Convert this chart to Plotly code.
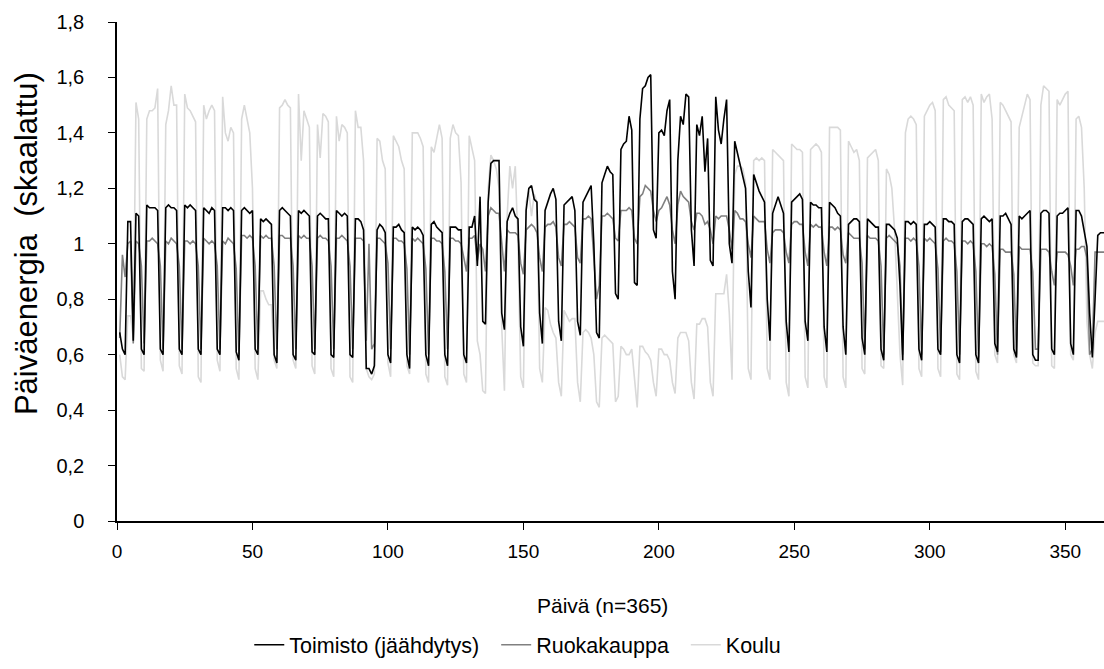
import plotly.graph_objects as go

# Day number (1 = 1 Jan)
days = list(range(1, 366))

# Toimisto (jäähdytys) – daily energy, scaled (first 3 days, then Mon..Sun weeks)
toimisto = [
    0.68, 0.62, 0.60,
    1.08, 1.08, 0.65, 1.11, 1.10, 0.62, 0.60,
    1.14, 1.13, 1.13, 1.13, 1.12, 0.62, 0.60,
    1.13, 1.14, 1.13, 1.13, 1.12, 0.62, 0.60,
    1.14, 1.13, 1.14, 1.13, 1.12, 0.62, 0.60,
    1.13, 1.12, 1.11, 1.13, 1.12, 0.62, 0.60,
    1.13, 1.13, 1.12, 1.13, 1.12, 0.61, 0.58,
    1.12, 1.13, 1.12, 1.11, 1.12, 0.62, 0.60,
    1.09, 1.08, 1.09, 1.08, 1.07, 0.60, 0.57,
    1.12, 1.13, 1.12, 1.11, 1.10, 0.60, 0.58,
    1.12, 1.11, 1.12, 1.11, 1.10, 0.61, 0.60,
    1.10, 1.11, 1.10, 1.09, 1.09, 0.60, 0.59,
    1.12, 1.11, 1.10, 1.11, 1.10, 0.60, 0.59,
    1.09, 1.09, 1.08, 1.05, 0.55, 0.55, 0.53,
    0.56, 1.05, 1.07, 1.06, 1.04, 0.60, 0.57,
    1.06, 1.06, 1.07, 1.05, 1.04, 0.60, 0.55,
    1.06, 1.05, 1.06, 1.05, 1.03, 0.60, 0.56,
    1.07, 1.08, 1.06, 1.05, 1.04, 0.60, 0.56,
    1.06, 1.06, 1.06, 1.05, 1.05, 0.60, 0.57,
    1.06, 1.06, 1.10, 0.92, 1.17, 0.72, 0.71,
    1.15, 1.29, 1.30, 1.30, 1.30, 0.75, 0.69,
    1.08, 1.11, 1.13, 1.10, 1.09, 0.70, 0.63,
    1.12, 1.20, 1.21, 1.16, 1.15, 0.75, 0.64,
    1.12, 1.15, 1.18, 1.20, 1.16, 0.72, 0.65,
    1.14, 1.15, 1.16, 1.17, 1.12, 0.72, 0.67,
    1.15, 1.17, 1.19, 1.21, 1.00, 0.68, 0.66,
    1.22, 1.25, 1.28, 1.26, 1.25, 0.82, 0.80,
    1.34, 1.36, 1.37, 1.46, 1.41, 0.86, 0.85,
    1.45, 1.56, 1.57, 1.60, 1.61, 1.05, 1.02,
    1.40, 1.41, 1.39, 1.48, 1.52, 0.90, 0.80,
    1.30, 1.46, 1.43, 1.54, 1.53, 1.05, 0.92,
    1.43, 1.39, 1.46, 1.26, 1.38, 0.94, 0.92,
    1.53, 1.41, 1.36, 1.45, 1.52, 1.00, 0.93,
    1.37, 1.33, 1.29, 1.25, 1.20, 0.90, 0.77,
    1.25, 1.22, 1.19, 1.17, 1.15, 0.80, 0.65,
    1.11, 1.14, 1.17, 1.14, 1.11, 0.72, 0.61,
    1.15, 1.16, 1.17, 1.18, 1.16, 0.72, 0.65,
    1.15, 1.14, 1.14, 1.13, 1.13, 0.70, 0.61,
    1.15, 1.14, 1.13, 1.11, 1.10, 0.70, 0.60,
    1.07, 1.08, 1.09, 1.09, 1.08, 0.66, 0.60,
    1.09, 1.08, 1.07, 1.06, 1.06, 0.62, 0.58,
    1.07, 1.07, 1.06, 1.05, 1.02, 0.85, 0.58,
    1.08, 1.08, 1.07, 1.08, 1.07, 0.62, 0.58,
    1.07, 1.07, 1.08, 1.07, 1.06, 0.62, 0.60,
    1.09, 1.09, 1.08, 1.08, 1.07, 0.60, 0.57,
    1.08, 1.09, 1.09, 1.08, 1.07, 0.60, 0.57,
    1.09, 1.10, 1.09, 1.08, 1.09, 0.64, 0.61,
    1.10, 1.10, 1.11, 1.09, 1.07, 0.62, 0.59,
    1.10, 1.09, 1.10, 1.11, 1.12, 0.60, 0.58,
    0.58, 1.11, 1.12, 1.12, 1.11, 0.62, 0.60,
    1.10, 1.11, 1.11, 1.12, 1.13, 0.64, 0.60,
    1.12, 1.12, 1.10, 1.05, 0.99, 0.75, 0.59,
    0.80, 1.03, 1.04, 1.04, 1.04,
]

# Ruokakauppa
ruokakauppa = [
    0.66, 0.96, 0.88,
    1.00, 1.01, 0.64, 1.01, 1.00, 0.92, 0.64,
    1.01, 1.01, 1.02, 1.01, 1.00, 0.92, 0.62,
    1.01, 1.00, 1.02, 1.01, 1.00, 0.92, 0.62,
    1.01, 1.01, 1.00, 1.01, 1.00, 0.92, 0.62,
    1.02, 1.01, 1.00, 1.01, 1.00, 0.92, 0.62,
    1.01, 1.00, 1.02, 1.01, 1.00, 0.91, 0.60,
    1.03, 1.03, 1.02, 1.03, 1.02, 0.92, 0.62,
    1.03, 1.02, 1.03, 1.02, 1.02, 0.92, 0.62,
    1.03, 1.03, 1.02, 1.02, 1.02, 0.92, 0.62,
    1.03, 1.02, 1.03, 1.02, 1.02, 0.92, 0.62,
    1.02, 1.03, 1.02, 1.02, 1.01, 0.92, 0.62,
    1.02, 1.02, 1.03, 1.02, 1.01, 0.92, 0.62,
    1.02, 1.02, 1.02, 1.01, 0.65, 1.00, 0.62,
    0.64, 1.02, 1.02, 1.01, 1.00, 0.93, 0.62,
    1.02, 1.02, 1.01, 1.01, 1.00, 0.91, 0.60,
    1.02, 1.01, 1.02, 1.01, 1.00, 0.91, 0.60,
    1.02, 1.02, 1.01, 1.01, 1.00, 0.90, 0.62,
    1.02, 1.02, 1.01, 1.01, 1.00, 0.95, 0.90,
    1.02, 1.02, 1.03, 0.94, 1.00, 0.98, 0.90,
    1.10, 1.13, 1.12, 1.11, 1.11, 1.00, 0.90,
    1.05, 1.04, 1.04, 1.04, 1.03, 0.93, 0.89,
    1.05, 1.06, 1.07, 1.06, 1.04, 0.95, 0.90,
    1.06, 1.07, 1.07, 1.08, 1.06, 0.95, 0.92,
    1.07, 1.07, 1.08, 1.07, 1.06, 0.95, 0.93,
    1.09, 1.09, 1.10, 1.09, 0.95, 0.80, 0.85,
    1.10, 1.10, 1.11, 1.10, 1.09, 1.02, 1.01,
    1.12, 1.12, 1.12, 1.13, 1.12, 1.02, 1.00,
    1.17, 1.18, 1.21, 1.20, 1.19, 1.12, 1.08,
    1.12, 1.13, 1.15, 1.17, 1.14, 1.05, 1.00,
    1.14, 1.19, 1.17, 1.16, 1.15, 1.08, 1.05,
    1.11, 1.11, 1.10, 1.07, 1.08, 1.05, 1.00,
    1.10, 1.09, 1.10, 1.10, 1.10, 1.05, 0.98,
    1.12, 1.11, 1.09, 1.09, 1.08, 1.00, 0.95,
    1.10, 1.09, 1.08, 1.08, 1.08, 0.98, 0.93,
    1.04, 1.05, 1.05, 1.05, 1.04, 0.97, 0.93,
    1.07, 1.08, 1.08, 1.07, 1.07, 0.97, 0.92,
    1.07, 1.06, 1.07, 1.06, 1.06, 0.97, 0.92,
    1.06, 1.06, 1.05, 1.06, 1.05, 0.96, 0.93,
    1.04, 1.03, 1.02, 1.02, 1.02, 0.93, 0.62,
    1.03, 1.02, 1.02, 1.02, 1.01, 0.92, 0.60,
    1.02, 1.03, 1.02, 1.01, 1.00, 0.92, 0.60,
    1.02, 1.02, 1.01, 1.02, 1.01, 0.92, 0.60,
    1.02, 1.01, 1.02, 1.01, 1.00, 0.91, 0.61,
    1.01, 1.02, 1.01, 1.01, 1.00, 0.90, 0.60,
    1.01, 1.01, 1.00, 1.01, 1.00, 0.90, 0.59,
    1.00, 1.00, 0.99, 1.00, 0.99, 0.89, 0.60,
    0.98, 0.98, 0.97, 0.97, 0.97, 0.89, 0.60,
    0.99, 0.98, 0.98, 0.98, 0.98, 0.90, 0.62,
    0.62, 0.98, 0.98, 0.98, 0.97, 0.90, 0.85,
    0.97, 0.97, 0.97, 0.97, 0.96, 0.92, 0.85,
    0.98, 0.98, 0.99, 0.99, 0.95, 0.60, 0.62,
    0.97, 0.97, 0.97, 0.97, 0.97,
]

# Koulu
koulu = [
    0.60, 0.52, 0.51,
    0.74, 0.74, 0.66, 1.51, 1.45, 0.55, 0.54,
    1.45, 1.48, 1.48, 1.49, 1.56, 0.58, 0.54,
    1.43, 1.48, 1.57, 1.50, 1.50, 0.56, 0.53,
    1.54, 1.49, 1.48, 1.46, 1.44, 0.52, 0.50,
    1.50, 1.45, 1.48, 1.50, 1.48, 0.58, 0.54,
    1.53, 1.40, 1.37, 1.42, 1.40, 0.55, 0.51,
    1.45, 1.50, 1.45, 1.40, 1.20, 0.55, 0.51,
    0.83, 0.83, 0.80, 0.78, 0.78, 0.58, 0.55,
    1.49, 1.50, 1.52, 1.50, 1.49, 0.58, 0.55,
    1.54, 1.30, 1.48, 1.45, 1.42, 0.56, 0.53,
    1.43, 1.31, 1.47, 1.46, 1.44, 0.55, 0.52,
    1.46, 1.37, 1.43, 1.42, 1.40, 0.52, 0.50,
    1.48, 1.42, 1.42, 1.30, 0.55, 0.52, 0.51,
    0.53, 1.38, 1.37, 1.30, 1.27, 0.57, 0.52,
    1.39, 1.37, 1.35, 1.30, 1.27, 0.56, 0.53,
    1.40, 1.40, 1.40, 1.38, 1.35, 0.53, 0.50,
    1.35, 1.33, 1.38, 1.43, 1.38, 0.52, 0.49,
    1.38, 1.43, 1.40, 1.39, 1.22, 0.53, 0.50,
    1.39, 1.35, 1.30, 0.65, 0.60, 0.47, 0.46,
    1.20, 1.32, 1.30, 1.27, 1.20, 0.70, 0.47,
    1.10, 1.28, 1.20, 1.28, 1.00, 0.52, 0.48,
    1.15, 1.19, 1.10, 1.18, 1.15, 0.55, 0.50,
    0.77, 0.76, 0.71, 0.68, 0.66, 0.50, 0.45,
    0.76, 0.74, 0.72, 0.73, 0.73, 0.50, 0.43,
    0.68, 0.69, 0.68, 0.66, 0.60, 0.43, 0.41,
    0.66, 0.67, 0.66, 0.65, 0.64, 0.43, 0.45,
    0.63, 0.62, 0.60, 0.60, 0.62, 0.50, 0.41,
    0.63, 0.63, 0.61, 0.60, 0.58, 0.50, 0.45,
    0.62, 0.62, 0.60, 0.60, 0.58, 0.50, 0.46,
    0.66, 0.68, 0.68, 0.68, 0.65, 0.50, 0.44,
    0.71, 0.71, 0.73, 0.73, 0.70, 0.50, 0.45,
    0.82, 0.82, 0.82, 0.82, 0.89, 0.75, 0.51,
    1.25, 1.28, 1.28, 1.27, 1.22, 0.55, 0.51,
    1.30, 1.31, 1.30, 1.31, 1.30, 0.55, 0.51,
    1.34, 1.33, 1.32, 1.31, 1.30, 0.50, 0.45,
    1.36, 1.35, 1.34, 1.34, 1.33, 0.52, 0.48,
    1.34, 1.35, 1.36, 1.35, 1.33, 0.52, 0.48,
    1.42, 1.42, 1.42, 1.42, 1.41, 0.52, 0.48,
    1.37, 1.35, 1.33, 1.34, 1.30, 0.55, 0.53,
    1.31, 1.32, 1.33, 1.34, 1.30, 0.56, 0.55,
    1.27, 1.25, 1.20, 1.05, 0.80, 0.60, 0.49,
    1.40, 1.45, 1.46, 1.45, 1.43, 0.55, 0.52,
    1.46, 1.48, 1.50, 1.51, 1.48, 0.55, 0.52,
    1.52, 1.53, 1.50, 1.49, 1.48, 0.53, 0.51,
    1.52, 1.53, 1.51, 1.53, 1.50, 0.54, 0.51,
    1.54, 1.51, 1.53, 1.54, 1.45, 0.60, 0.57,
    1.51, 1.50, 1.48, 1.46, 1.44, 0.60, 0.57,
    1.42, 1.46, 1.50, 1.54, 1.52, 0.57, 0.56,
    0.56, 1.50, 1.57, 1.56, 1.55, 0.56, 0.55,
    1.52, 1.50, 1.52, 1.54, 1.55, 0.60, 0.58,
    1.45, 1.46, 1.42, 1.20, 0.72, 0.60, 0.55,
    0.68, 0.72, 0.72, 0.72, 0.72,
]

x_tick_vals = [0, 50, 100, 150, 200, 250, 300, 350]
y_tick_vals = [0, 0.2, 0.4, 0.6, 0.8, 1.0, 1.2, 1.4, 1.6, 1.8]
y_tick_text = ["0", "0,2", "0,4", "0,6", "0,8", "1", "1,2", "1,4", "1,6", "1,8"]

assert len(toimisto) == 365 and len(ruokakauppa) == 365 and len(koulu) == 365

FONT = "Liberation Sans"
PAD = "\u00a0\u00a0"

fig = go.Figure()
fig.add_trace(go.Scatter(x=days, y=koulu, mode="lines", name="Koulu" + PAD,
                         line=dict(color="#d9d9d9", width=1.6), legendrank=3))
fig.add_trace(go.Scatter(x=days, y=ruokakauppa, mode="lines", name="Ruokakauppa" + PAD,
                         line=dict(color="#808080", width=1.6), legendrank=2))
fig.add_trace(go.Scatter(x=days, y=toimisto, mode="lines", name="Toimisto (jäähdytys)" + PAD,
                         line=dict(color="#000000", width=1.6), legendrank=1))

fig.update_layout(
    width=1104, height=669,
    margin=dict(l=117, r=0, t=22, b=148),
    paper_bgcolor="white", plot_bgcolor="white",
    font=dict(family=FONT, color="#000000"),
    showlegend=True,
    legend=dict(orientation="h", x=0.134, xanchor="left", y=-0.248, yanchor="middle",
                font=dict(size=21.5, family=FONT), itemwidth=30, tracegroupgap=0,
                bgcolor="rgba(0,0,0,0)"),
    xaxis=dict(range=[0, 364.3], tickvals=x_tick_vals, ticks="outside", ticklen=7,
               tickcolor="#000", tickwidth=1, showline=True, linecolor="#000", linewidth=1.5,
               showgrid=False, zeroline=False, tickfont=dict(size=19, family=FONT),
               ticklabelstandoff=5),
    yaxis=dict(range=[0, 1.8], tickvals=y_tick_vals, ticktext=y_tick_text, ticks="outside",
               ticklen=7, tickcolor="#000", tickwidth=1, showline=True, linecolor="#000",
               linewidth=1.5, showgrid=False, zeroline=False,
               tickfont=dict(size=20, family=FONT), ticklabelstandoff=20),
    annotations=[
        dict(text="Päivä (n=365)", xref="paper", yref="paper", x=0.492, y=-0.170,
             xanchor="center", yanchor="middle", showarrow=False,
             font=dict(size=21, family=FONT)),
        dict(text="Päiväenergia  (skaalattu)", xref="paper", yref="paper", x=-0.0922,
             y=0.557, xanchor="center", yanchor="middle", textangle=-90, showarrow=False,
             font=dict(size=31, family=FONT)),
    ],
)

fig.write_html("out.html")
